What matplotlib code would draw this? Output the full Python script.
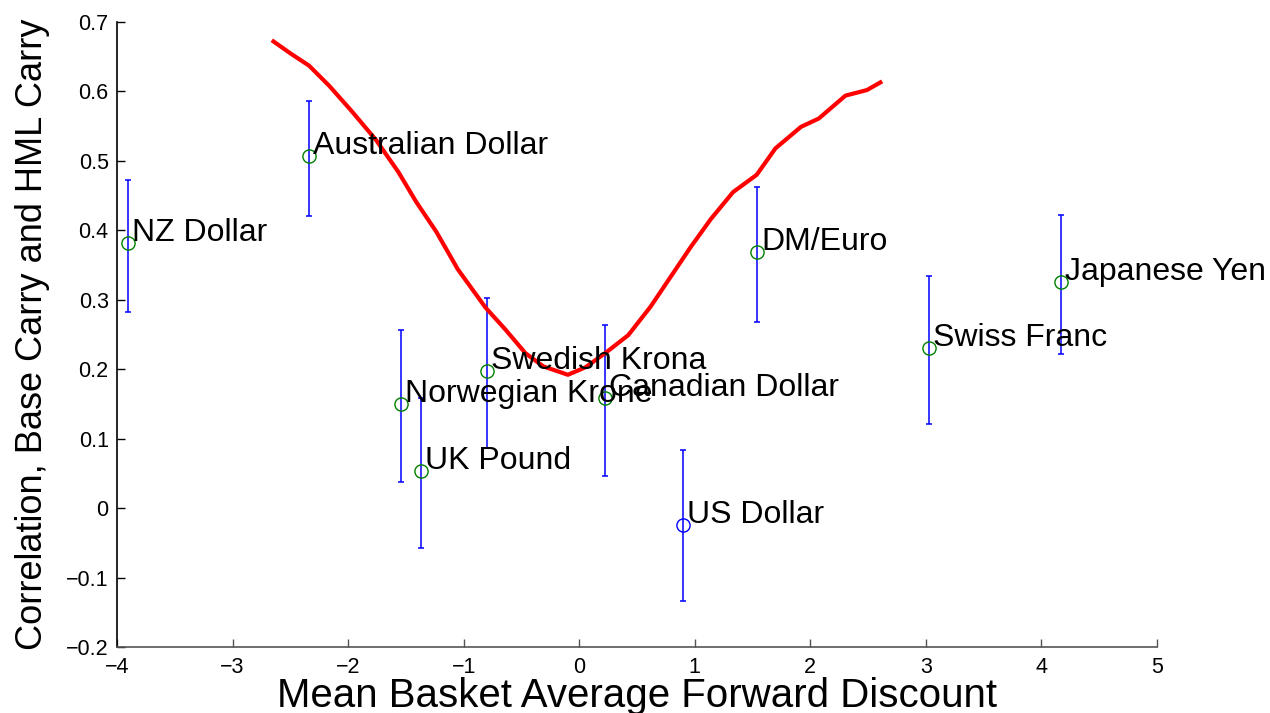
import numpy as np
import matplotlib
matplotlib.use("Agg")
import matplotlib.pyplot as plt

plt.rcParams["font.family"] = ["Liberation Sans", "DejaVu Sans"]

# currencies: mean forward discount, correlation and error band
currencies = ["NZ Dollar", "Australian Dollar", "Norwegian Krone", "UK Pound",
              "Swedish Krona", "Canadian Dollar", "US Dollar", "DM/Euro",
              "Swiss Franc", "Japanese Yen"]
fwd_discount = [-3.905, -2.34, -1.54, -1.37, -0.80, 0.22, 0.90, 1.536, 3.024, 4.166]
correlation = [0.382, 0.507, 0.150, 0.053, 0.197, 0.159, -0.024, 0.369, 0.231, 0.326]
err_upper = [0.473, 0.586, 0.256, 0.159, 0.303, 0.264, 0.084, 0.462, 0.334, 0.422]
err_lower = [0.282, 0.421, 0.038, -0.057, 0.087, 0.046, -0.134, 0.268, 0.121, 0.222]
marker_colors = ["#008000"] * 6 + ["#0000ff"] + ["#008000"] * 3

# smoothed fit (red line)
fit_x = [-2.646, -2.492, -2.337, -2.163, -1.971, -1.758, -1.565, -1.411, -1.237,
         -1.051, -0.812, -0.638, -0.465, -0.310, -0.098, 0.057, 0.231, 0.424,
         0.617, 0.791, 0.965, 1.138, 1.331, 1.536, 1.698, 1.919, 2.073, 2.304,
         2.490, 2.606]
fit_y = [0.672, 0.654, 0.637, 0.608, 0.572, 0.530, 0.484, 0.441, 0.398, 0.344,
         0.289, 0.257, 0.223, 0.204, 0.192, 0.203, 0.224, 0.249, 0.290, 0.333,
         0.376, 0.416, 0.455, 0.480, 0.518, 0.549, 0.561, 0.594, 0.602, 0.613]

x_ticks = [-4, -3, -2, -1, 0, 1, 2, 3, 4, 5]
y_ticks = [-0.2, -0.1, 0, 0.1, 0.2, 0.3, 0.4, 0.5, 0.6, 0.7]

fig = plt.figure(figsize=(12.7, 7.13), dpi=100)
ax = fig.add_axes([117 / 1270, 66 / 713, 1040 / 1270, 625 / 713])

x = np.array(fwd_discount)
y = np.array(correlation)
yerr = np.vstack([y - np.array(err_lower), np.array(err_upper) - y])

ax.errorbar(x, y, yerr=yerr, fmt="none", ecolor="#0000ff", elinewidth=1.1,
            capsize=2.5, capthick=1.1, zorder=2)
for xi, yi, c in zip(x, y, marker_colors):
    ax.plot(xi, yi, "o", mfc="none", mec=c, ms=9.5, mew=1.0, zorder=3)

ax.plot(fit_x, fit_y, color="#ff0000", lw=3.0, zorder=4)

for name, xi, yi in zip(currencies, x, y):
    ax.annotate(name, (xi, yi), xytext=(3, 1.5), textcoords="offset points",
                ha="left", va="baseline", fontsize=23, color="black", zorder=5)

ax.set_xlim(-4, 5)
ax.set_ylim(-0.2, 0.7)
ax.set_xticks(x_ticks)
ax.set_yticks(y_ticks)
ax.set_yticklabels(["\u22120.2", "\u22120.1", "0", "0.1", "0.2", "0.3", "0.4", "0.5", "0.6", "0.7"])
ax.set_xticklabels(["\u22124", "\u22123", "\u22122", "\u22121", "0", "1", "2", "3", "4", "5"])

ax.spines["top"].set_visible(False)
ax.spines["right"].set_visible(False)
ax.spines["left"].set_color("black")
ax.spines["bottom"].set_color("#555555")
ax.spines["left"].set_linewidth(1.2)
ax.spines["bottom"].set_linewidth(1.2)
ax.tick_params(axis="both", direction="in", length=6, width=1.0, labelsize=15.5)
ax.tick_params(axis="x", colors="#555555", labelcolor="black", pad=7)
ax.tick_params(axis="y", pad=6)

ax.set_xlabel("Mean Basket Average Forward Discount", fontsize=29)
ax.xaxis.set_label_coords(0.5, -0.048, transform=ax.transAxes)
ax.xaxis.label.set_va("top")
ax.set_ylabel("Correlation, Base Carry and HML Carry", fontsize=26)
ax.yaxis.set_label_coords(-0.064, 0.5)

fig.savefig("out.png", dpi=100)
